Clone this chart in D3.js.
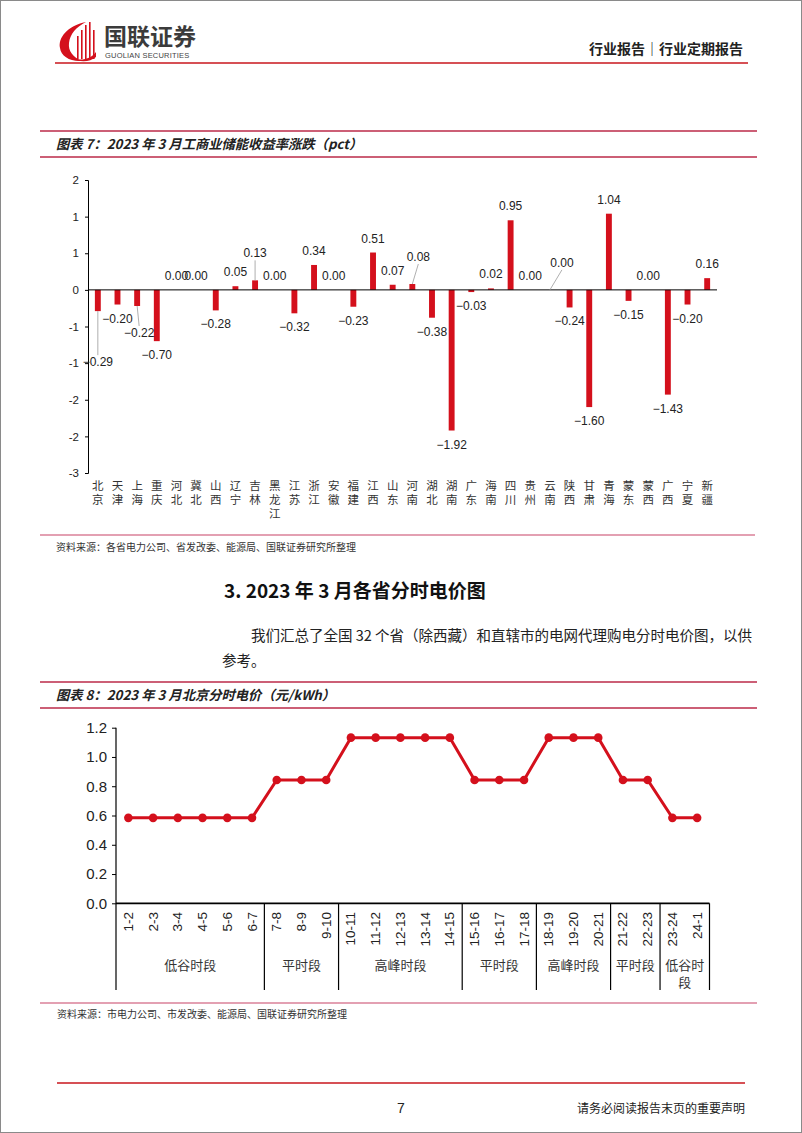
<!DOCTYPE html>
<html>
<head>
<meta charset="utf-8">
<style>
    body { margin: 0; background: #fff; }
    svg { display: block; font-family: "Liberation Sans", Arial, sans-serif; }
    .cjk { font-family: "Noto Sans CJK SC", sans-serif; }
    .fig-title { font-family: "Noto Sans CJK SC", sans-serif; font-size: 13.3px; font-weight: bold; font-style: italic; fill: #222; }
    .source { font-family: "Noto Sans CJK SC", sans-serif; font-size: 10px; fill: #333; }
    .axis .domain { stroke: #000; }
    .axis .tick line { stroke: #000; }
    .y1 .tick text { font-size: 11.5px; fill: #222; }
    .y2 .tick text { font-size: 15px; fill: #222; }
    .bar-label { font-size: 12px; fill: #222; }
    .prov { font-family: "Noto Sans CJK SC", sans-serif; font-size: 11.5px; fill: #333; }
    .hour { font-size: 13.5px; fill: #222; }
    .period { font-family: "Noto Sans CJK SC", sans-serif; font-size: 13px; fill: #333; }
</style>
</head>
<body>
<svg width="802" height="1133"></svg>

<script src="https://d3js.org/d3.v7.min.js"></script>
<script>

// chart 7: change of storage return by province (pct)
let provinces = ["北京", "天津", "上海", "重庆", "河北", "冀北", "山西", "辽宁", "吉林", "黑龙江",
    "江苏", "浙江", "安徽", "福建", "江西", "山东", "河南", "湖北", "湖南", "广东",
    "海南", "四川", "贵州", "云南", "陕西", "甘肃", "青海", "蒙东", "蒙西", "广西", "宁夏", "新疆"]
let changes = [-0.29, -0.20, -0.22, -0.70, 0.00, 0.00, -0.28, 0.05, 0.13, 0.00,
    -0.32, 0.34, 0.00, -0.23, 0.51, 0.07, 0.08, -0.38, -1.92, -0.03,
    0.02, 0.95, 0.00, 0.00, -0.24, -1.60, 1.04, -0.15, 0.00, -1.43, -0.20, 0.16]
let changeTicks = [-2.5, -2, -1.5, -1, -0.5, 0, 0.5, 1, 1.5]

// chart 8: Beijing time-of-use price (yuan/kWh)
let hours = ["1-2", "2-3", "3-4", "4-5", "5-6", "6-7", "7-8", "8-9", "9-10", "10-11", "11-12", "12-13",
    "13-14", "14-15", "15-16", "16-17", "17-18", "18-19", "19-20", "20-21", "21-22", "22-23", "23-24", "24-1"]
let prices = [0.584, 0.584, 0.584, 0.584, 0.584, 0.584, 0.843, 0.843, 0.843, 1.132, 1.132, 1.132,
    1.132, 1.132, 0.843, 0.843, 0.843, 1.132, 1.132, 1.132, 0.843, 0.843, 0.584, 0.584]
let priceTicks = [0, 0.2, 0.4, 0.6, 0.8, 1.0, 1.2]
let periodNames = ["低谷时段", "平时段", "高峰时段", "平时段", "高峰时段", "平时段", "低谷时段"]
let periodLengths = [6, 3, 5, 3, 3, 2, 2]

// labels that were moved by hand in the original, with a leader line
let labelNudge = { "北京": [0, 37], "上海": [2, 13], "吉林": [0, -13], "河南": [6, -13], "云南": [12, -13] }

let red = "#d4101c"
let rose = "#cc5f76"

let svg = d3.select("svg")

// page frame
svg.append("rect")
    .attr("x", 0.5).attr("y", 0.5).attr("width", 801).attr("height", 1132)
    .attr("fill", "none").attr("stroke", "#8a8a8a")

// ---------- header ----------
let logo = svg.append("g")
logo.append("path")
    .attr("d", "M86,22 C67,26 58,38 60,48 C61,56 70,62 82,61 C73,57 68,51 69,43 C70,34 76,27 86,22 Z")
    .attr("fill", red)
;[[77, 36], [81, 30], [85, 25], [89, 22], [93, 30]].forEach(([x, top]) => {
    logo.append("rect").attr("x", x).attr("y", top).attr("width", 1.6).attr("height", 59 - top).attr("fill", red)
})
logo.append("path")
    .attr("d", "M72,58 C82,62 92,58 96,52 L96,57 C90,62 80,63 72,58 Z")
    .attr("fill", red)

svg.append("text").attr("class", "cjk")
    .attr("x", 104).attr("y", 45)
    .style("font-size", "23px").style("font-weight", "bold").style("fill", "#3b3b3b")
    .text("国联证券")
svg.append("text")
    .attr("x", 105).attr("y", 57.5)
    .style("font-size", "7.5px").style("fill", "#444").style("letter-spacing", "0.2px")
    .text("GUOLIAN SECURITIES")

svg.append("text").attr("class", "cjk")
    .attr("x", 743).attr("y", 54)
    .attr("text-anchor", "end")
    .style("font-size", "14px").style("font-weight", "bold").style("fill", "#222")
    .text("行业报告｜行业定期报告")

svg.append("line")
    .attr("x1", 55).attr("x2", 748).attr("y1", 63).attr("y2", 63)
    .attr("stroke", "#c8161d").attr("stroke-width", 1.6)

// ---------- figure 7 ----------
function titleBar(y0, y1, label) {
    svg.append("line").attr("x1", 40).attr("x2", 757).attr("y1", y0).attr("y2", y0)
        .attr("stroke", rose).attr("stroke-width", 1.8)
    svg.append("line").attr("x1", 40).attr("x2", 757).attr("y1", y1).attr("y2", y1)
        .attr("stroke", rose).attr("stroke-width", 1.8)
    svg.append("text").attr("class", "fig-title")
        .attr("x", 56).attr("y", (y0 + y1) / 2 + 5)
        .text(label)
}

titleBar(131, 157, "图表 7：2023 年 3 月工商业储能收益率涨跌（pct）")

let x1 = d3.scaleBand().domain(provinces).range([88, 717]).paddingInner(0.7).paddingOuter(0.35)
let y1 = d3.scaleLinear().domain([-2.5, 1.5]).range([473, 180])

let roundAway = d => (d < 0 ? "-" : "") + Math.round(Math.abs(d))

svg.append("g")
    .attr("class", "axis y1")
    .attr("transform", "translate(88,0)")
    .call(d3.axisLeft(y1).tickValues(changeTicks).tickSize(3).tickPadding(6).tickFormat(roundAway))

svg.append("g")
    .selectAll("rect")
    .data(changes)
    .join("rect")
    .attr("x", (d, i) => x1(provinces[i]))
    .attr("width", x1.bandwidth())
    .attr("y", d => y1(Math.max(0, d)))
    .attr("height", d => Math.abs(y1(d) - y1(0)))
    .attr("fill", red)

// zero line
svg.append("line")
    .attr("x1", 88).attr("x2", 717).attr("y1", y1(0)).attr("y2", y1(0))
    .attr("stroke", "#000").attr("stroke-width", 1)

let fmt2 = d3.format(".2f")
changes.forEach((d, i) => {
    let p = provinces[i]
    let cx = x1(p) + x1.bandwidth() / 2
    let end = y1(d)
    let dir = d < 0 ? 1 : -1
    let nudge = labelNudge[p] || [0, 0]
    let lx = cx + nudge[0]
    let ly = end + dir * 14 + nudge[1]
    if (labelNudge[p]) {
        svg.append("line")
            .attr("x1", cx).attr("y1", end)
            .attr("x2", lx).attr("y2", ly - dir * 7)
            .attr("stroke", "#9a9a9a").attr("stroke-width", 0.8)
    }
    svg.append("text").attr("class", "bar-label")
        .attr("x", lx).attr("y", ly)
        .attr("text-anchor", "middle")
        .attr("dominant-baseline", "central")
        .text(fmt2(d) == "-0.00" ? "0.00" : fmt2(d))
})

// province names, written top to bottom
provinces.forEach(p => {
    let t = svg.append("text").attr("class", "prov")
        .attr("text-anchor", "middle")
    Array.from(p).forEach((c, k) => {
        t.append("tspan")
            .attr("x", x1(p) + x1.bandwidth() / 2)
            .attr("y", 490 + k * 14)
            .text(c)
    })
})

svg.append("line").attr("x1", 40).attr("x2", 755).attr("y1", 535).attr("y2", 535)
    .attr("stroke", "#e3a0b2").attr("stroke-width", 1.8)
svg.append("text").attr("class", "source")
    .attr("x", 56).attr("y", 551)
    .text("资料来源：各省电力公司、省发改委、能源局、国联证券研究所整理")

// ---------- section text ----------
svg.append("text").attr("class", "cjk")
    .attr("x", 224).attr("y", 598)
    .style("font-size", "19px").style("font-weight", "bold").style("fill", "#111")
    .text("3. 2023 年 3 月各省分时电价图")

svg.append("text").attr("class", "cjk")
    .attr("x", 251).attr("y", 641)
    .style("font-size", "14.5px").style("fill", "#222")
    .text("我们汇总了全国 32 个省（除西藏）和直辖市的电网代理购电分时电价图，以供")
svg.append("text").attr("class", "cjk")
    .attr("x", 222).attr("y", 666)
    .style("font-size", "14.5px").style("fill", "#222")
    .text("参考。")

// ---------- figure 8 ----------
titleBar(682, 708, "图表 8：2023 年 3 月北京分时电价（元/kWh）")

let x2 = d3.scaleBand().domain(hours).range([116, 709.5])
let y2 = d3.scaleLinear().domain([0, 1.2]).range([903.3, 727.7])

svg.append("g")
    .attr("class", "axis y2")
    .attr("transform", "translate(116,0)")
    .call(d3.axisLeft(y2).tickValues(priceTicks).tickSize(4).tickPadding(5).tickFormat(d3.format(".1f")))
    .call(g => g.select(".domain").remove())

// left frame, x axis and right frame of the category box
svg.append("line").attr("x1", 116).attr("x2", 116).attr("y1", y2(1.2)).attr("y2", 990)
    .attr("stroke", "#000").attr("stroke-width", 1.2)
svg.append("line").attr("x1", 116).attr("x2", 709.5).attr("y1", y2(0)).attr("y2", y2(0))
    .attr("stroke", "#000").attr("stroke-width", 1.8)

let cum = 0
periodLengths.forEach((n, i) => {
    let start = x2(hours[cum])
    cum += n
    let end = cum < hours.length ? x2(hours[cum]) : x2.range()[1]
    svg.append("line").attr("x1", end).attr("x2", end).attr("y1", y2(0)).attr("y2", 990)
        .attr("stroke", "#000").attr("stroke-width", 1.2)
    let name = periodNames[i]
    let mid = (start + end) / 2
    let t = svg.append("text").attr("class", "period").attr("text-anchor", "middle")
    if (end - start < 60) {
        t.append("tspan").attr("x", mid).attr("y", 970).text(name.slice(0, 3))
        t.append("tspan").attr("x", mid).attr("y", 987).text(name.slice(3))
    } else {
        t.append("tspan").attr("x", mid).attr("y", 970).text(name)
    }
})

svg.append("g")
    .selectAll("text")
    .data(hours)
    .join("text")
    .attr("class", "hour")
    .attr("transform", d => `translate(${x2(d) + x2.bandwidth() / 2}, 912) rotate(-90)`)
    .attr("text-anchor", "end")
    .attr("dominant-baseline", "central")
    .text(d => d)

let line = d3.line()
    .x((d, i) => x2(hours[i]) + x2.bandwidth() / 2)
    .y(d => y2(d))

svg.append("path")
    .datum(prices)
    .attr("d", line)
    .attr("fill", "none")
    .attr("stroke", red)
    .attr("stroke-width", 3)

svg.append("g")
    .selectAll("circle")
    .data(prices)
    .join("circle")
    .attr("cx", (d, i) => x2(hours[i]) + x2.bandwidth() / 2)
    .attr("cy", d => y2(d))
    .attr("r", 4.3)
    .attr("fill", red)

svg.append("line").attr("x1", 40).attr("x2", 757).attr("y1", 1003).attr("y2", 1003)
    .attr("stroke", "#e3a0b2").attr("stroke-width", 1.8)
svg.append("text").attr("class", "source")
    .attr("x", 57).attr("y", 1018)
    .text("资料来源：市电力公司、市发改委、能源局、国联证券研究所整理")

// ---------- footer ----------
svg.append("line").attr("x1", 57).attr("x2", 745).attr("y1", 1083).attr("y2", 1083)
    .attr("stroke", "#c8161d").attr("stroke-width", 1.6)
svg.append("text")
    .attr("x", 401).attr("y", 1113)
    .attr("text-anchor", "middle")
    .style("font-size", "14px").style("fill", "#222")
    .text("7")
svg.append("text").attr("class", "cjk")
    .attr("x", 745).attr("y", 1113)
    .attr("text-anchor", "end")
    .style("font-size", "12px").style("fill", "#222")
    .text("请务必阅读报告末页的重要声明")

</script>
</body>
</html>
